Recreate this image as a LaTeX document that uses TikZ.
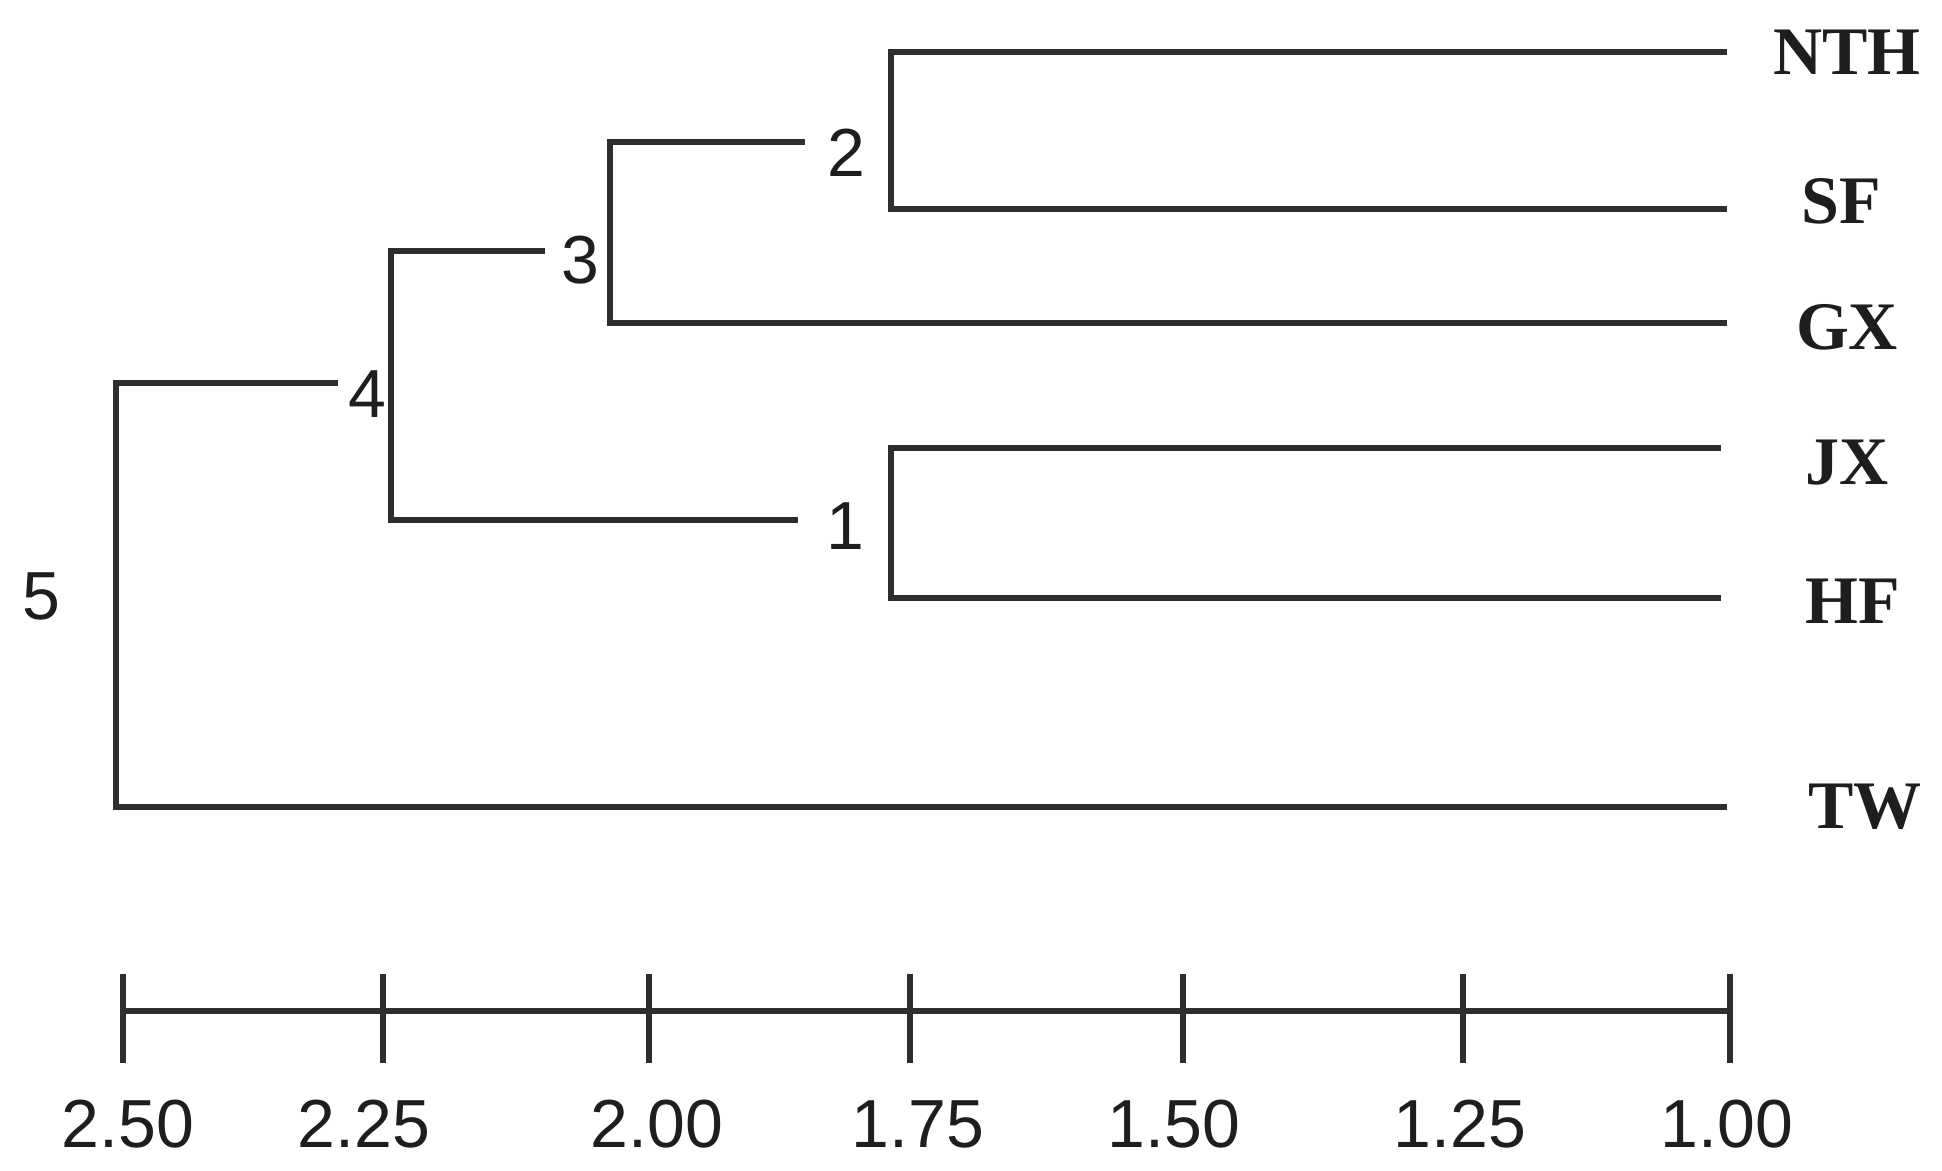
\documentclass[tikz,border=0pt]{standalone}
\usepackage{fontspec}
\setmainfont{Liberation Serif}
\newfontfamily\arialf{Liberation Sans}
\definecolor{linec}{HTML}{2E2E2E}
\definecolor{textc}{HTML}{1E1E1E}
\begin{document}
\begin{tikzpicture}[x=0.5pt,y=-0.5pt,
  br/.style={draw=linec,line width=2.9pt,line join=miter},
  leaf/.style={font=\bfseries\fontsize{34}{40}\selectfont,text=textc,inner sep=0pt},
  num/.style={font=\arialf\fontsize{34}{40}\selectfont,text=textc,inner sep=0pt},
  ticklab/.style={font=\arialf\fontsize{34}{40}\selectfont,text=textc,inner sep=0pt}]
\useasboundingbox (0,0) rectangle (1942,1171);
\fill[white] (0,0) rectangle (1942,1171);
% leaf ends
\coordinate (eNTH) at (1727,52);
\coordinate (eSF) at (1727,209);
\coordinate (eGX) at (1727,323);
\coordinate (eJX) at (1721,448);
\coordinate (eHF) at (1721,598);
\coordinate (eTW) at (1727,807);
% junctions
\coordinate (j2a) at (891,52);
\coordinate (j2b) at (891,209);
\coordinate (s2) at (805,142);
\coordinate (j3t) at (610,142);
\coordinate (j3b) at (610,323);
\coordinate (s3) at (545,251);
\coordinate (j4t) at (391,251);
\coordinate (j4b) at (391,520);
\coordinate (s1) at (798,520);
\coordinate (j1a) at (891,448);
\coordinate (j1b) at (891,598);
\coordinate (s4) at (338,383);
\coordinate (j5t) at (116,383);
\coordinate (j5b) at (116,807);
% leaf labels
\node[leaf] (NTH) at (1847,52) {NTH};
\node[leaf] (SF) at (1841,201) {SF};
\node[leaf] (GX) at (1847,327) {GX};
\node[leaf] (JX) at (1847,463) {JX};
\node[leaf] (HF) at (1853,601) {HF};
\node[leaf] (TW) at (1865,807) {TW};
% internal labels
\node[num] (l2) at (846,153) {2};
\node[num] (l3) at (580,260) {3};
\node[num] (l1) at (845,526) {1};
\node[num] (l4) at (367,394) {4};
\node[num] (l5) at (41,596) {5};
% branches
\draw[br] (eNTH) -- (j2a) -- (j2b) -- (eSF);
\draw[br] (s2) -- (j3t) -- (j3b) -- (eGX);
\draw[br] (s3) -- (j4t) -- (j4b) -- (s1);
\draw[br] (eJX) -- (j1a) -- (j1b) -- (eHF);
\draw[br] (s4) -- (j5t) -- (j5b) -- (eTW);
% axis
\coordinate (a0) at (123,1011);
\coordinate (a1) at (1730,1011);
\draw[br] (a0) -- (a1);
\foreach \tx/\lx/\lab in {123/128/2.50,383/364/2.25,649/657/2.00,910/918/1.75,1183/1174/1.50,1463/1460/1.25,1730/1727/1.00}{
  \draw[br] (\tx,974) -- (\tx,1063);
  \node[ticklab] at (\lx,1124) {\lab};
}
\end{tikzpicture}
\end{document}
